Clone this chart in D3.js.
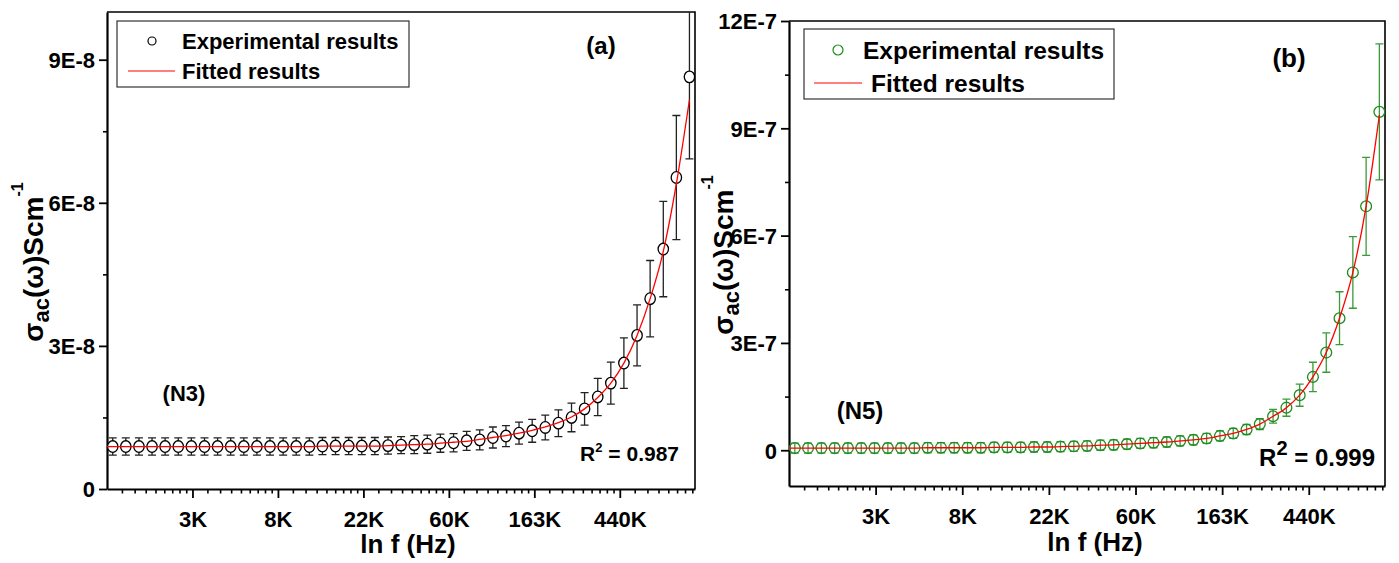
<!DOCTYPE html>
<html>
<head>
<meta charset="utf-8">
<script src="https://cdn.jsdelivr.net/npm/d3@7"></script>
<style>
  body { margin: 0; background: #fff; }
  svg text { font-family: "Liberation Sans", Arial, sans-serif; font-weight: bold; fill: #000; }
</style>
</head>
<body>
<svg id="chart" width="1399" height="563"></svg>
<script>
// ln f of the measured frequencies (same for both samples)
const lnF = [7.067, 7.220, 7.374, 7.527, 7.680, 7.834, 7.987, 8.141, 8.294, 8.447,
  8.601, 8.754, 8.907, 9.061, 9.214, 9.368, 9.521, 9.674, 9.828, 9.981,
  10.134, 10.288, 10.441, 10.595, 10.748, 10.901, 11.055, 11.208, 11.361, 11.515,
  11.668, 11.821, 11.975, 12.128, 12.282, 12.435, 12.588, 12.742, 12.895, 13.048,
  13.202, 13.355, 13.509, 13.662, 13.815];
const fitLnF = [7.0].concat(lnF);

const xTickVals = [8, 9, 10, 11, 12, 13];
const xTickLabels = ["3K", "8K", "22K", "60K", "163K", "440K"];

// sample N3, in units of 1E-8 S/cm
const sigmaN3 = [0.89, 0.89, 0.89, 0.89, 0.89, 0.89, 0.89, 0.89, 0.89, 0.89,
  0.89, 0.89, 0.89, 0.89, 0.89, 0.89, 0.90, 0.90, 0.90, 0.90,
  0.90, 0.91, 0.92, 0.93, 0.94, 0.96, 0.97, 1.01, 1.03, 1.08,
  1.11, 1.17, 1.22, 1.29, 1.38, 1.50, 1.68, 1.93, 2.22, 2.64,
  3.22, 3.99, 5.03, 6.53, 8.64];
const errN3 = [0.18, 0.18, 0.18, 0.18, 0.18, 0.18, 0.18, 0.18, 0.18, 0.18,
  0.18, 0.18, 0.18, 0.18, 0.18, 0.18, 0.18, 0.18, 0.18, 0.18,
  0.18, 0.18, 0.18, 0.19, 0.19, 0.19, 0.19, 0.20, 0.21, 0.22,
  0.22, 0.23, 0.24, 0.26, 0.28, 0.30, 0.34, 0.39, 0.44, 0.53,
  0.64, 0.80, 1.00, 1.30, 1.72];
const fitN3 = [0.89, 0.89, 0.89, 0.89, 0.89, 0.89, 0.89, 0.89, 0.89, 0.89, 0.89,
  0.89, 0.89, 0.89, 0.89, 0.89, 0.89, 0.90, 0.90, 0.90, 0.90,
  0.90, 0.91, 0.92, 0.93, 0.94, 0.96, 0.98, 1.00, 1.04, 1.08,
  1.12, 1.17, 1.23, 1.30, 1.39, 1.51, 1.68, 1.92, 2.22, 2.64,
  3.22, 3.99, 4.98, 6.40, 8.16];
const yTicksN3 = [0, 3, 6, 9];
const yTickLabelsN3 = ["0", "3E-8", "6E-8", "9E-8"];
const yMinorN3 = [1.5, 4.5, 7.5];

// sample N5, in units of 1E-7 S/cm
const sigmaN5 = [0.06, 0.06, 0.06, 0.06, 0.06, 0.06, 0.06, 0.06, 0.06, 0.06,
  0.07, 0.07, 0.07, 0.07, 0.07, 0.08, 0.08, 0.08, 0.09, 0.09,
  0.10, 0.11, 0.12, 0.14, 0.15, 0.17, 0.19, 0.21, 0.23, 0.26,
  0.29, 0.33, 0.40, 0.47, 0.58, 0.73, 0.95, 1.19, 1.54, 2.05,
  2.73, 3.69, 4.97, 6.82, 9.46];
const errN5 = [0.14, 0.14, 0.14, 0.14, 0.14, 0.14, 0.14, 0.14, 0.14, 0.14,
  0.14, 0.14, 0.14, 0.14, 0.14, 0.14, 0.14, 0.14, 0.14, 0.14,
  0.14, 0.14, 0.14, 0.14, 0.14, 0.14, 0.14, 0.14, 0.14, 0.14,
  0.14, 0.14, 0.14, 0.14, 0.14, 0.15, 0.19, 0.24, 0.31, 0.41,
  0.55, 0.74, 1.00, 1.37, 1.90];
const fitN5 = [0.06, 0.06, 0.06, 0.06, 0.06, 0.06, 0.06, 0.06, 0.06, 0.06, 0.06,
  0.07, 0.07, 0.07, 0.07, 0.07, 0.08, 0.08, 0.08, 0.09, 0.09,
  0.10, 0.11, 0.12, 0.14, 0.15, 0.17, 0.19, 0.21, 0.23, 0.26,
  0.29, 0.33, 0.40, 0.47, 0.58, 0.73, 0.95, 1.19, 1.54, 2.05,
  2.73, 3.69, 4.97, 6.82, 9.37];
const yTicksN5 = [0, 3, 6, 9, 12];
const yTickLabelsN5 = ["0", "3E-7", "6E-7", "9E-7", "12E-7"];
const yMinorN5 = [1.5, 4.5, 7.5, 10.5];

const xDomain = [7, 13.88];

// Origin-style ln-axis minor ticks: 8 per e-decade, linear in f
const xMinor = [];
for (let n = 7; n <= 13; n++) {
  for (let j = 1; j <= 8; j++) {
    const v = n + Math.log(1 + j * (Math.E - 1) / 9);
    if (v < xDomain[1]) xMinor.push(v);
  }
}

const svg = d3.select("#chart");

function drawPanel(cfg) {
  const x = d3.scaleLinear().domain(xDomain).range([cfg.left, cfg.right]);
  const y = d3.scaleLinear().domain(cfg.yDomain).range([cfg.bottom, cfg.top]);
  const g = svg.append("g");

  svg.append("clipPath").attr("id", "clip-" + cfg.id)
    .append("rect")
    .attr("x", cfg.left).attr("y", cfg.top)
    .attr("width", cfg.right - cfg.left).attr("height", cfg.bottom - cfg.top);

  // top + right frame
  g.append("path")
    .attr("d", `M${cfg.left},${cfg.top}H${cfg.right}V${cfg.bottom}`)
    .attr("fill", "none").attr("stroke", "#000").attr("stroke-width", 1.6);

  // x axis, minor then major
  g.append("g").attr("transform", `translate(0,${cfg.bottom})`)
    .call(d3.axisBottom(x).tickValues(xMinor).tickSize(4.5).tickSizeOuter(0).tickFormat(""))
    .call(a => a.select(".domain").remove())
    .selectAll("line").attr("stroke-width", 1.6);

  const xa = g.append("g").attr("transform", `translate(0,${cfg.bottom})`)
    .call(d3.axisBottom(x).tickValues(xTickVals).tickSize(9).tickSizeOuter(0)
      .tickFormat((d, i) => xTickLabels[i]));
  xa.select(".domain").attr("stroke-width", 2.2);
  xa.selectAll("line").attr("stroke-width", 1.8);
  xa.selectAll("text").attr("y", 22).attr("dy", "0.71em")
    .style("font-size", "22px");

  // y axis
  g.append("g").attr("transform", `translate(${cfg.left},0)`)
    .call(d3.axisLeft(y).tickValues(cfg.yMinor).tickSize(4).tickSizeOuter(0).tickFormat(""))
    .call(a => a.select(".domain").remove())
    .selectAll("line").attr("stroke-width", 1.6);

  const ya = g.append("g").attr("transform", `translate(${cfg.left},0)`)
    .call(d3.axisLeft(y).tickValues(cfg.yTicks).tickSize(8).tickSizeOuter(0)
      .tickFormat((d, i) => cfg.yTickLabels[i]));
  ya.select(".domain").attr("stroke-width", 2.2);
  ya.selectAll("line").attr("stroke-width", 1.8);
  ya.selectAll("text").attr("x", -12).attr("dy", "0.36em")
    .style("font-size", "22px");

  // data
  const pts = lnF.map((f, i) => ({ f, v: cfg.values[i], e: cfg.errors[i] }));
  const plot = g.append("g").attr("clip-path", `url(#clip-${cfg.id})`);

  const eb = plot.append("g").attr("stroke", cfg.errColor).attr("stroke-width", 1.3).attr("fill", "none");
  eb.selectAll("path").data(pts).join("path")
    .attr("d", d => {
      const cx = x(d.f), y1 = y(d.v + d.e), y2 = y(d.v - d.e);
      return `M${cx - 4},${y1}H${cx + 4}M${cx},${y1}V${y2}M${cx - 4},${y2}H${cx + 4}`;
    });

  plot.append("g").selectAll("ellipse").data(pts).join("ellipse")
    .attr("cx", d => x(d.f)).attr("cy", d => y(d.v))
    .attr("rx", cfg.rx).attr("ry", cfg.ry)
    .attr("fill", cfg.markerFill).attr("stroke", cfg.markerColor).attr("stroke-width", 1.3);

  const line = d3.line().x(d => x(d[0])).y(d => y(d[1])).curve(d3.curveMonotoneX);
  plot.append("path")
    .datum(fitLnF.map((f, i) => [f, cfg.fit[i]]))
    .attr("d", line)
    .attr("fill", "none").attr("stroke", "#ff0000").attr("stroke-width", 1.3);

  // axis titles
  svg.append("text")
    .attr("x", cfg.xTitleX).attr("y", cfg.xTitleY)
    .attr("text-anchor", "middle").style("font-size", "26px")
    .text("ln f (Hz)");

  const yt = svg.append("text")
    .attr("transform", `translate(${cfg.yTitleX},${cfg.yTitleY}) rotate(-90)`)
    .attr("text-anchor", "middle").style("font-size", "28px");
  yt.append("tspan").text("σ");
  yt.append("tspan").attr("dy", 6).style("font-size", "22px").text("ac");
  yt.append("tspan").attr("dy", -6).text("(ω)Scm");
  yt.append("tspan").attr("dy", -20).style("font-size", "16px").text("-1");

  // legend
  const L = cfg.legend;
  svg.append("rect")
    .attr("x", L.x).attr("y", L.y).attr("width", L.w).attr("height", L.h)
    .attr("fill", "#fff").attr("stroke", "#333").attr("stroke-width", 1.2);
  svg.append("circle")
    .attr("cx", L.symX).attr("cy", L.row1).attr("r", L.r)
    .attr("fill", "none").attr("stroke", cfg.markerColor).attr("stroke-width", 1.2);
  svg.append("text").attr("x", L.textX).attr("y", L.row1 + L.fs * 0.36)
    .style("font-size", L.fs + "px").text("Experimental results");
  svg.append("line")
    .attr("x1", L.lineX1).attr("x2", L.lineX2).attr("y1", L.row2).attr("y2", L.row2)
    .attr("stroke", "#ff0000").attr("stroke-width", 1.2);
  svg.append("text").attr("x", L.textX2).attr("y", L.row2 + L.fs * 0.36)
    .style("font-size", L.fs + "px").text("Fitted results");

  // annotations
  svg.append("text").attr("x", cfg.tag.x).attr("y", cfg.tag.y)
    .attr("text-anchor", "middle").style("font-size", cfg.tag.fs + "px").text(cfg.tag.text);
  svg.append("text").attr("x", cfg.sample.x).attr("y", cfg.sample.y)
    .attr("text-anchor", "middle").style("font-size", cfg.sample.fs + "px").text(cfg.sample.text);

  const r2 = svg.append("text").attr("x", cfg.r2.x).attr("y", cfg.r2.y)
    .attr("text-anchor", "end").style("font-size", cfg.r2.fs + "px");
  r2.append("tspan").text("R");
  r2.append("tspan").attr("dy", -cfg.r2.sup).style("font-size", cfg.r2.supFs + "px").text("2");
  r2.append("tspan").attr("dy", cfg.r2.sup).text(" = " + cfg.r2.text);
}

drawPanel({
  id: "a", left: 107, right: 695, top: 12, bottom: 489,
  yDomain: [0, 10], yTicks: yTicksN3, yTickLabels: yTickLabelsN3, yMinor: yMinorN3,
  values: sigmaN3, errors: errN3, fit: fitN3,
  markerColor: "#000", markerFill: "#fff", errColor: "#222", rx: 5.2, ry: 5.8,
  xTitleX: 408, xTitleY: 553, yTitleX: 43, yTitleY: 262,
  legend: { x: 117, y: 21, w: 292, h: 66, symX: 152, r: 4, row1: 41, row2: 71,
    textX: 182, textX2: 182, lineX1: 128, lineX2: 175, fs: 22 },
  tag: { x: 601, y: 54, fs: 24, text: "(a)" },
  sample: { x: 184, y: 401, fs: 22, text: "(N3)" },
  r2: { x: 679, y: 461, fs: 21, sup: 9, supFs: 13, text: "0.987" }
});

drawPanel({
  id: "b", left: 789, right: 1385, top: 21, bottom: 486,
  yDomain: [-1, 12], yTicks: yTicksN5, yTickLabels: yTickLabelsN5, yMinor: yMinorN5,
  values: sigmaN5, errors: errN5, fit: fitN5,
  markerColor: "#1e8c1e", markerFill: "none", errColor: "#3a9a3a", rx: 5.4, ry: 5.4,
  xTitleX: 1095, xTitleY: 551, yTitleX: 733, yTitleY: 255,
  legend: { x: 804, y: 29, w: 310, h: 70, symX: 838, r: 5, row1: 50, row2: 83,
    textX: 863, textX2: 871, lineX1: 814, lineX2: 862, fs: 24.5 },
  tag: { x: 1289, y: 67, fs: 26, text: "(b)" },
  sample: { x: 860, y: 419, fs: 24, text: "(N5)" },
  r2: { x: 1375, y: 466, fs: 24, sup: 11, supFs: 20, text: "0.999" }
});
</script>
</body>
</html>
